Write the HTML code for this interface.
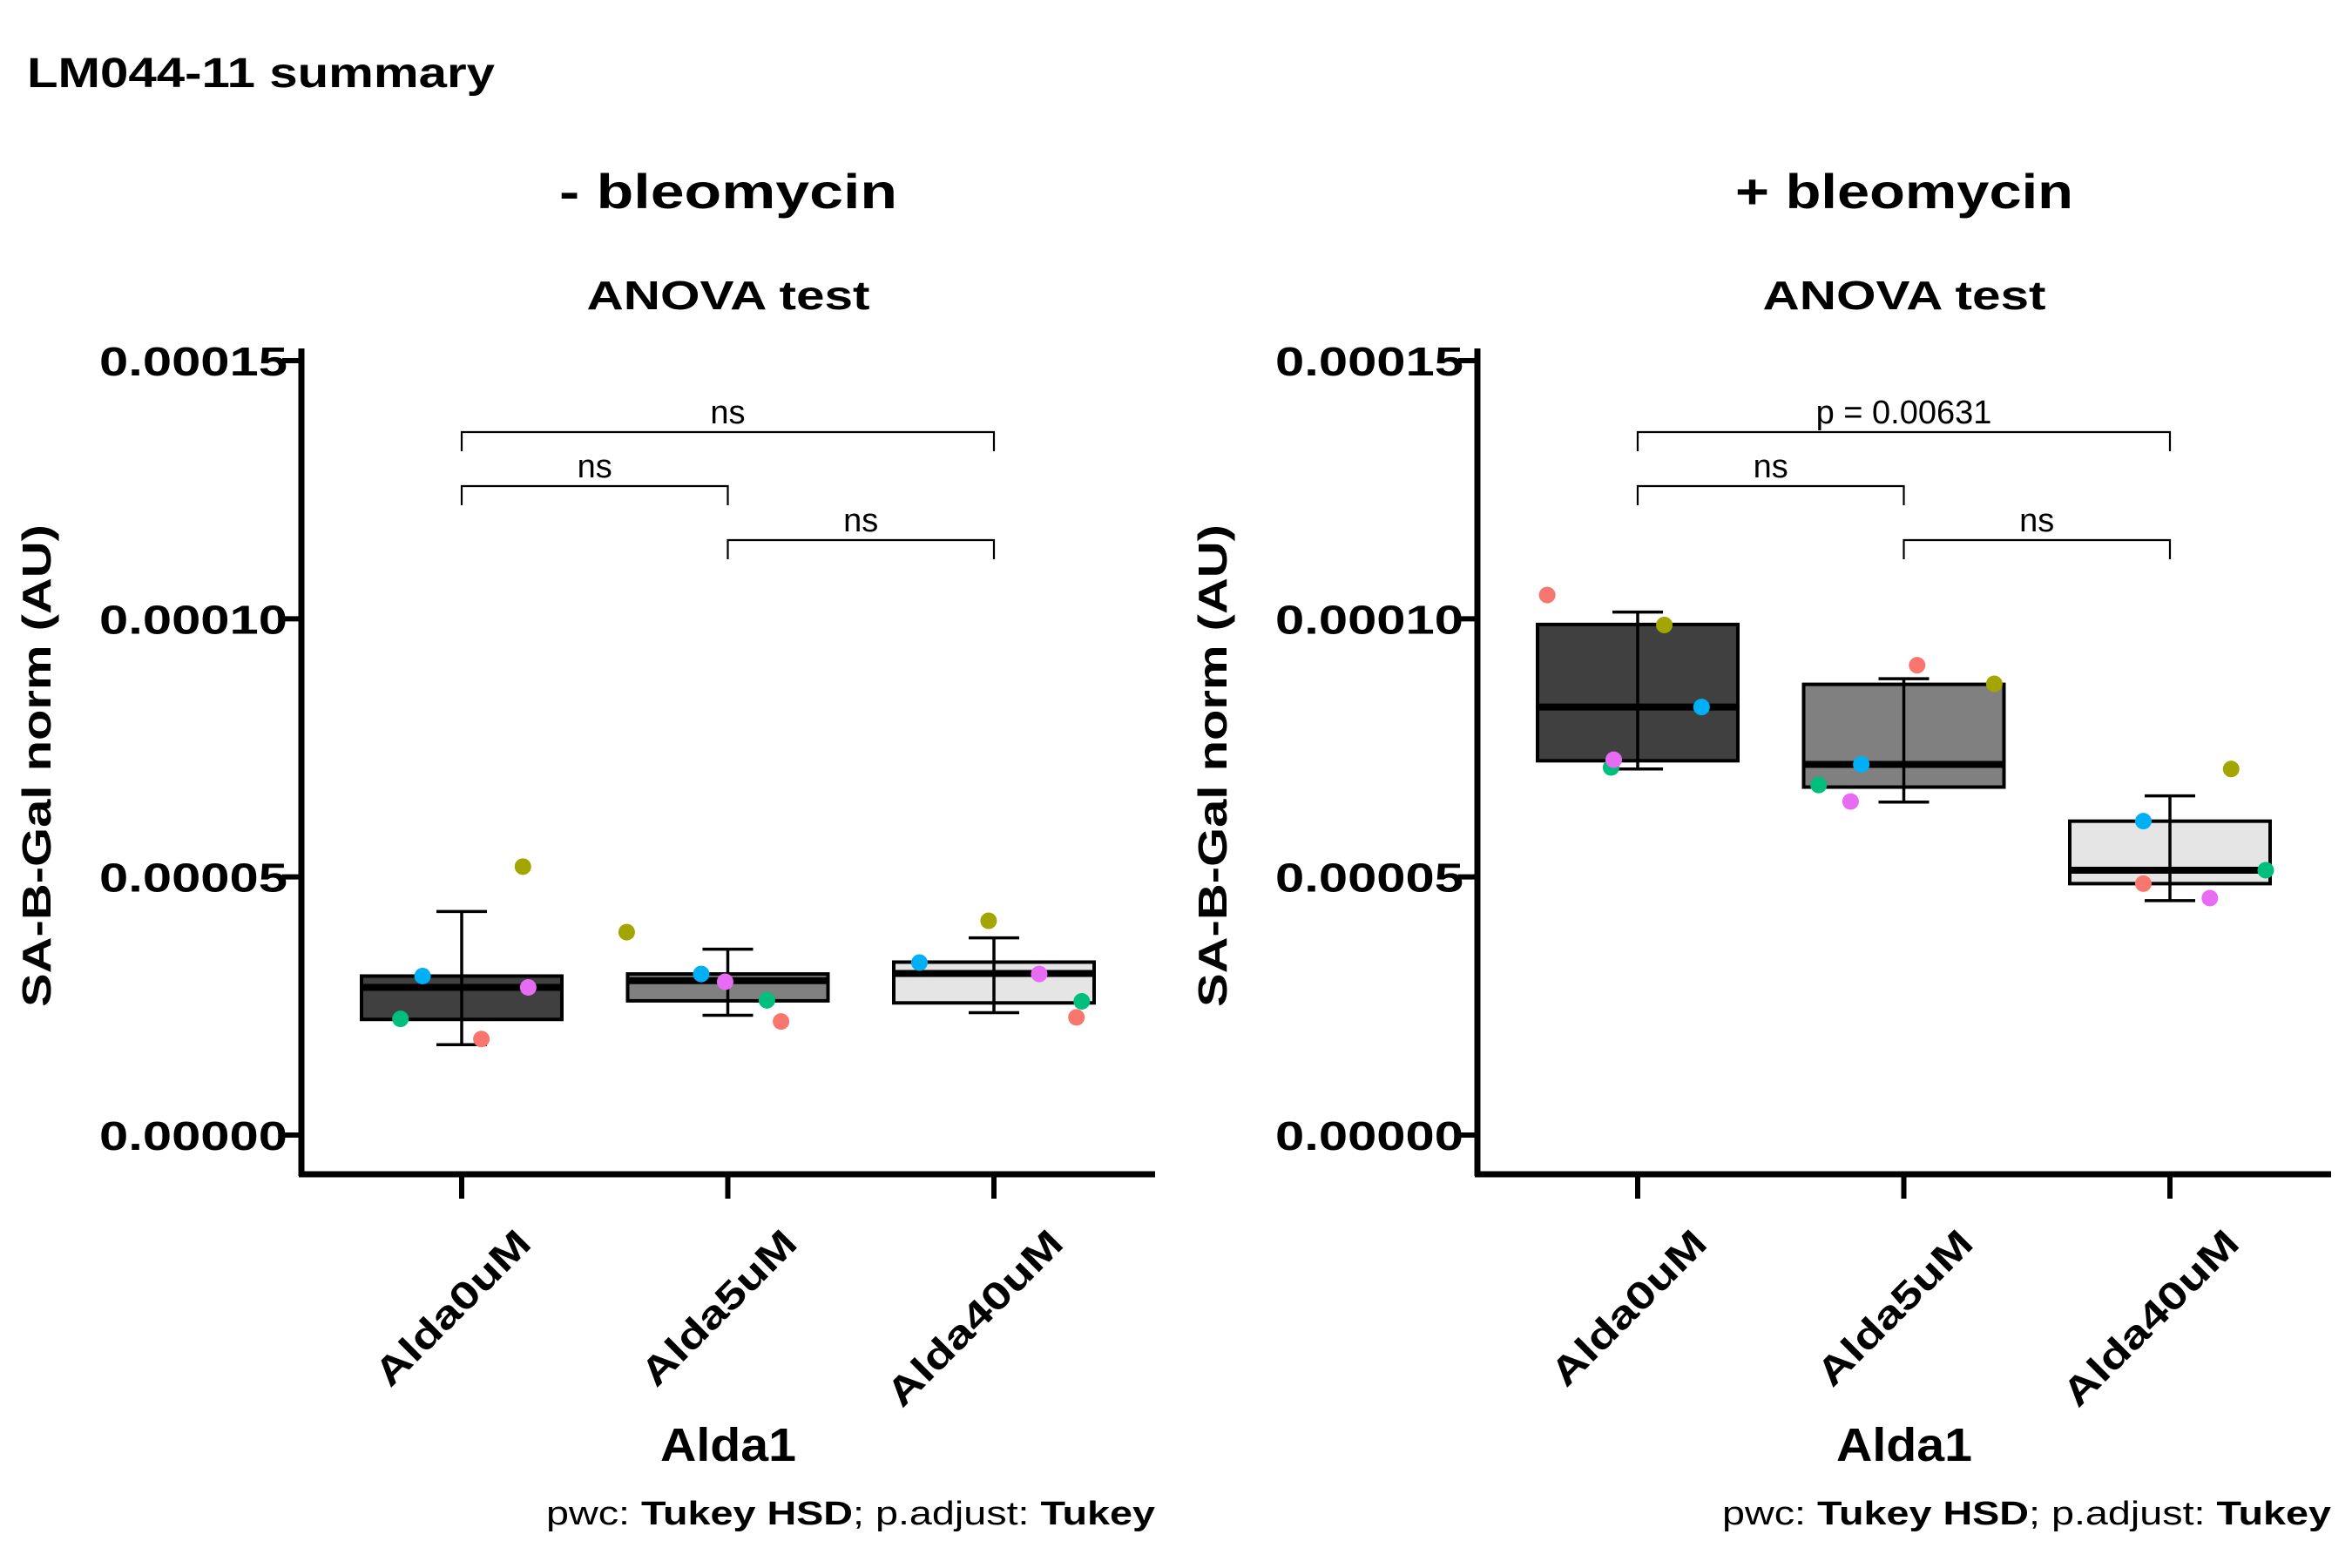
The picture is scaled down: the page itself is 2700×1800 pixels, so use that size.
<!DOCTYPE html>
<html><head><meta charset="utf-8"><style>
html,body{margin:0;padding:0;background:#fff;}
svg{display:block;font-family:"Liberation Sans",sans-serif;}
</style></head><body>
<svg id="chart" width="2700" height="1800" viewBox="0 0 2700 1800" xmlns="http://www.w3.org/2000/svg">
<text x="31" y="100" font-size="48" font-weight="bold" textLength="537" lengthAdjust="spacingAndGlyphs">LM044-11 summary</text>
<g id="panels"></g>
</svg>
<script>
const categories = ["Alda0uM","Alda5uM","Alda40uM"];
const yTicks = [0, 0.00005, 0.0001, 0.00015];
const yTickLabels = ["0.00000","0.00005","0.00010","0.00015"];
const fills = ["#404040","#808080","#e5e5e5"];
const dotColors = ["#F8766D","#A3A500","#00BF7D","#00B0F6","#E76BF3"];
// box stats per panel: [q1, median, q3]
const boxMinus = [[2.24e-5,2.86e-5,3.08e-5],[2.6e-5,2.99e-5,3.12e-5],[2.56e-5,3.13e-5,3.35e-5]];
const boxPlus = [[7.25e-5,8.29e-5,9.89e-5],[6.74e-5,7.18e-5,8.73e-5],[4.87e-5,5.13e-5,6.08e-5]];
// error bar [low, high]
const errMinus = [[1.75e-5,4.33e-5],[2.32e-5,3.6e-5],[2.37e-5,3.82e-5]];
const errPlus = [[7.09e-5,1.013e-4],[6.45e-5,8.84e-5],[4.54e-5,6.57e-5]];
// points per category, order: red, olive, green, blue, pink
const ptsMinus = [[1.86e-5,5.2e-5,2.25e-5,3.08e-5,2.86e-5],[2.2e-5,3.93e-5,2.61e-5,3.12e-5,2.97e-5],[2.28e-5,4.15e-5,2.59e-5,3.34e-5,3.12e-5]];
const ptsPlus = [[1.046e-4,9.88e-5,7.12e-5,8.29e-5,7.27e-5],[9.1e-5,8.74e-5,6.78e-5,7.18e-5,6.46e-5],[4.87e-5,7.09e-5,5.13e-5,6.08e-5,4.59e-5]];
// jitter in category-width units
const jitMinus = [[0.074,0.23,-0.23,-0.147,0.25],[0.2,-0.38,0.147,-0.10,-0.01],[0.31,-0.02,0.33,-0.28,0.17]];
const jitPlus = [[-0.34,0.10,-0.10,0.24,-0.09],[0.05,0.34,-0.32,-0.16,-0.20],[-0.10,0.23,0.36,-0.10,0.15]];
const pLabelsMinus = ["ns","ns","ns"];
const pLabelsPlus = ["ns","ns","p = 0.00631"];
const panelTitles = ["- bleomycin","+ bleomycin"];

const NS="http://www.w3.org/2000/svg";
const root=document.getElementById('panels');
function mk(tag,attrs,parent){const e=document.createElementNS(NS,tag);for(const k in attrs)e.setAttribute(k,attrs[k]);(parent||root).appendChild(e);return e;}

const Y0=1303, Y15=414;
function yScale(v){return Y0-(v/0.00015)*(Y0-Y15);}

function drawPanel(ox, title, boxes, errs, pts, jits, pl, idx){
  const g=mk('g',{});
  
  
  const axX=ox, cat0=ox+184, step=305.5;
  const xScale=i=>cat0+i*step;
  const cx=ox+490;
  let t=mk('text',{x:cx,y:239,'font-size':56,'font-weight':'bold','text-anchor':'middle',textLength:388,lengthAdjust:'spacingAndGlyphs'},g);t.textContent=title;
  
  
  t=mk('text',{x:cx,y:355,'font-size':46,'font-weight':'bold','text-anchor':'middle',textLength:325,lengthAdjust:'spacingAndGlyphs'},g);t.textContent="ANOVA test";
  
  
  let a=mk('line',{x1:axX,y1:400,x2:axX,y2:1350,stroke:'#000','stroke-width':7},g);
  
  
  a=mk('line',{x1:axX-3,y1:1348,x2:ox+980,y2:1348,stroke:'#000','stroke-width':7},g);
  
  
  yTicks.forEach((v,i)=>{
    const y=yScale(v);
    const tk=mk('line',{x1:axX-22,y1:y,x2:axX,y2:y,stroke:'#000','stroke-width':6},g);
    
    
    const tl=mk('text',{x:axX-16,y:y+17,'font-size':46,'font-weight':'bold','text-anchor':'end',textLength:216,lengthAdjust:'spacingAndGlyphs'},g);
    tl.textContent=yTickLabels[i];
    
    
  });
  t=mk('text',{x:0,y:0,'font-size':46,'font-weight':'bold','text-anchor':'middle',textLength:554,lengthAdjust:'spacingAndGlyphs',transform:`translate(${ox-288},879) rotate(-90)`},g);
  t.textContent="SA-B-Gal norm (AU)";
  
  
  categories.forEach((c,i)=>{
    const x=xScale(i);
    const tk=mk('line',{x1:x,y1:1348,x2:x,y2:1376,stroke:'#000','stroke-width':6},g);
    
    
    const len=c.length>7?265:232;
    const tl=mk('text',{x:0,y:0,'font-size':44,'font-weight':'bold','text-anchor':'end',textLength:len,lengthAdjust:'spacingAndGlyphs',transform:`translate(${x+82},1430) rotate(-45)`},g);
    tl.textContent=c;
    
    
    const b=boxes[i], hw=115;
    const r=mk('rect',{x:x-hw,y:yScale(b[2]),width:2*hw,height:yScale(b[0])-yScale(b[2]),fill:fills[i],stroke:'#000','stroke-width':4},g);
    
    
    const m=mk('line',{x1:x-hw,y1:yScale(b[1]),x2:x+hw,y2:yScale(b[1]),stroke:'#000','stroke-width':8},g);
    
    
    const e=errs[i];
    const ev=mk('path',{d:`M${x},${yScale(e[0])}V${yScale(e[1])}M${x-29},${yScale(e[0])}H${x+29}M${x-29},${yScale(e[1])}H${x+29}`,stroke:'#000','stroke-width':3.5,fill:'none'},g);
    
    
    pts[i].forEach((v,k)=>{
      const d=mk('circle',{cx:x+jits[i][k]*step,cy:yScale(v),r:9.5,fill:dotColors[k]},g);
      
      
    });
  });
  const br=[[0,1,558,pl[0]],[1,2,620,pl[1]],[0,2,496,pl[2]]];
  br.forEach(q=>{
    const x1=xScale(q[0]),x2=xScale(q[1]),y=q[2];
    const p=mk('path',{d:`M${x1},${y+22}V${y}H${x2}V${y+22}`,stroke:'#000','stroke-width':2.2,fill:'none'},g);
    
    
    const l=mk('text',{x:(x1+x2)/2,y:y-10,'font-size':38,'text-anchor':'middle'},g);
    l.textContent=q[3];
    
    
  });
  t=mk('text',{x:cx,y:1677,'font-size':54,'font-weight':'bold','text-anchor':'middle',textLength:156,lengthAdjust:'spacingAndGlyphs'},g);
  t.textContent="Alda1";
  
  
  t=mk('text',{x:ox+980,y:1750,'font-size':38,'text-anchor':'end',textLength:699,lengthAdjust:'spacingAndGlyphs'},g);
  t.innerHTML='pwc: <tspan font-weight="bold">Tukey HSD</tspan>; p.adjust: <tspan font-weight="bold">Tukey</tspan>';
  
  
}
drawPanel(346, panelTitles[0], boxMinus, errMinus, ptsMinus, jitMinus, pLabelsMinus, 0);
drawPanel(1696, panelTitles[1], boxPlus, errPlus, ptsPlus, jitPlus, pLabelsPlus, 1);
</script>
</body></html>
